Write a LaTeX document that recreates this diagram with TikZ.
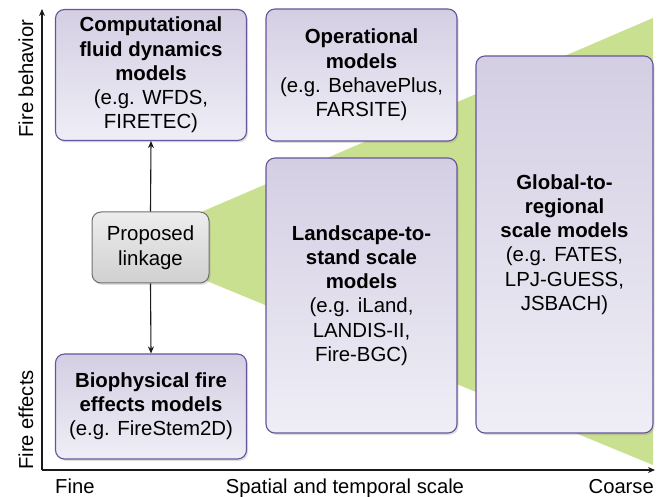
\documentclass[tikz,border=0pt]{standalone}
\usepackage{fontspec}
\setmainfont{Liberation Sans}
\usetikzlibrary{shadows,arrows.meta}
\definecolor{boxline}{HTML}{66559A}
\definecolor{boxtop}{HTML}{D4CEE3}
\definecolor{boxbot}{HTML}{EFEEF6}
\definecolor{greytop}{HTML}{EDEDED}
\definecolor{greybot}{HTML}{D0D0D0}
\definecolor{greyline}{HTML}{707070}
\definecolor{leaf}{HTML}{C8E08F}
\definecolor{axis}{HTML}{1A1A1A}
\tikzset{
  model/.style={draw=boxline, line width=1.1pt, rounded corners=9pt,
    top color=boxtop, bottom color=boxbot, inner sep=0pt, align=center,
    font=\fontsize{20.4}{24.2}\selectfont,
    drop shadow={opacity=0.25, shadow xshift=1.5pt, shadow yshift=-2pt}},
  linkbox/.style={draw=greyline, line width=1pt, rounded corners=9pt,
    top color=greytop, bottom color=greybot, inner sep=0pt, align=center,
    font=\fontsize{20.4}{25}\selectfont,
    drop shadow={opacity=0.25, shadow xshift=1.5pt, shadow yshift=-2pt}},
  axlabel/.style={font=\fontsize{20.2}{24}\selectfont, inner sep=0pt},
  axisline/.style={draw=axis, line width=1.2pt, -{Stealth[length=7pt,width=6pt]}},
  link/.style={draw=axis, line width=1.1pt, -{Stealth[length=7pt,width=6pt]}}
}
\begin{document}
\begin{tikzpicture}[x=1pt,y=-1pt]
\useasboundingbox (0,0) rectangle (667,497);
% green wedge
\fill[leaf] (122,246) -- (653,18) -- (653,465) -- cycle;
% axes
\coordinate (origin) at (42,470);
\coordinate (ytop) at (42,9);
\coordinate (xend) at (655,470);
\draw[axisline] (origin) -- (ytop);
\draw[axisline] (origin) -- (xend);
% boxes
\node[model, minimum width=191pt, minimum height=131pt] (cfd) at (151,75)
  {\textbf{Computational}\\\textbf{fluid dynamics}\\\textbf{models}\\(e.g. WFDS,\\FIRETEC)};
\node[model, minimum width=191pt, minimum height=132pt] (oper) at (361.5,75)
  {\textbf{Operational}\\\textbf{models}\\(e.g. BehavePlus,\\FARSITE)};
\node[model, minimum width=191pt, minimum height=275pt] (land) at (361.5,295.5)
  {\textbf{Landscape-to-}\\\textbf{stand scale}\\\textbf{models}\\(e.g. iLand,\\LANDIS-II,\\Fire-BGC)};
\node[model, minimum width=177pt, minimum height=377pt] (glob) at (564.5,244.5)
  {\textbf{Global-to-}\\\textbf{regional}\\\textbf{scale models}\\(e.g. FATES,\\LPJ-GUESS,\\JSBACH)};
\node[model, minimum width=191pt, minimum height=105pt] (bio) at (151,406.5)
  {\textbf{Biophysical fire}\\\textbf{effects models}\\(e.g. FireStem2D)};
\node[linkbox, minimum width=117pt, minimum height=71pt] (linkage) at (150.5,247.5)
  {Proposed\\linkage};
% linkage arrows
\draw[link] (linkage.north) -- (cfd.south);
\draw[link] (linkage.south) -- (bio.north);
% axis labels
\node[axlabel, rotate=90, anchor=base] (lbeh) at (33,78.5) {Fire behavior};
\node[axlabel, rotate=90, anchor=base] (leff) at (33,420) {Fire effects};
\node[axlabel, anchor=base west] (lfine) at (55,493) {Fine};
\node[axlabel, anchor=base] (lscale) at (345,493) {Spatial and temporal scale};
\node[axlabel, anchor=base east] (lcoarse) at (654,493) {Coarse};
\end{tikzpicture}
\end{document}
